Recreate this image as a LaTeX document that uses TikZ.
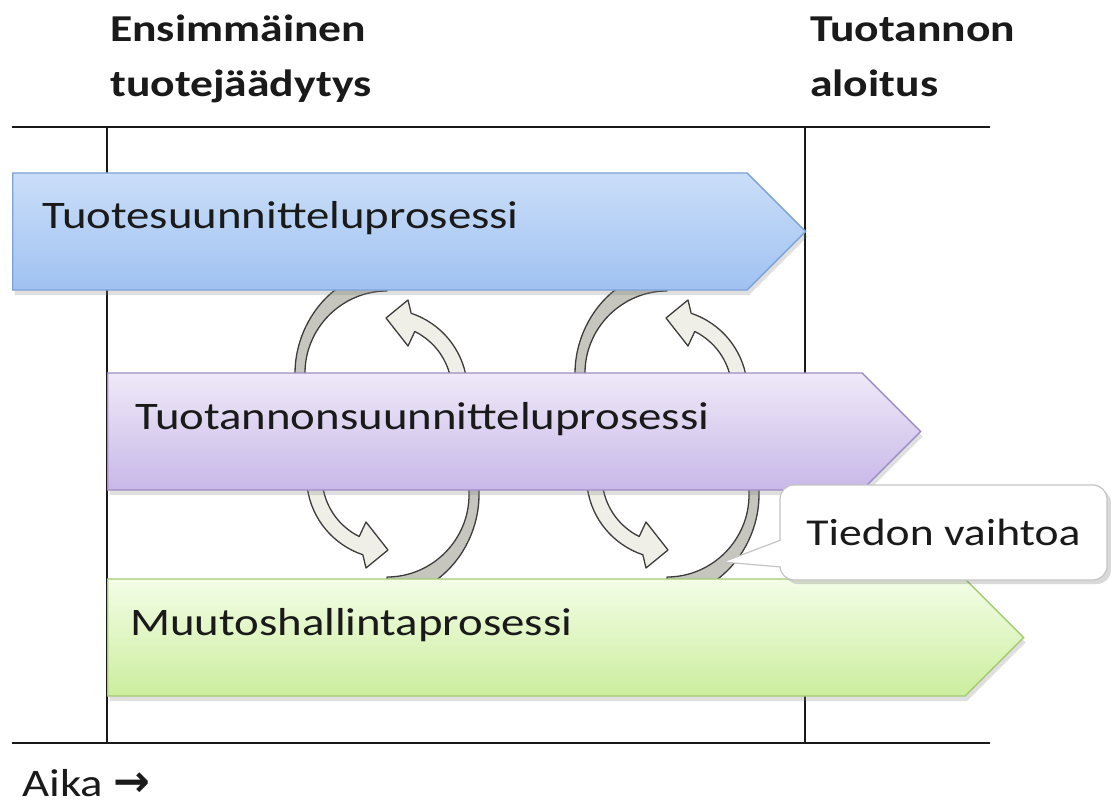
\documentclass[tikz,border=0pt]{standalone}
\usepackage{fontspec}
\setmainfont{Carlito}[FakeStretch=1.2]
\newfontfamily\arrowfont{DejaVu Sans}
\usetikzlibrary{shapes.symbols,shadows,calc}
\definecolor{ink}{HTML}{1A1A1A}
\definecolor{bluetop}{HTML}{CADEF8}
\definecolor{bluebot}{HTML}{A0C2F2}
\definecolor{blueline}{HTML}{7DA2D6}
\definecolor{violettop}{HTML}{EFE9F8}
\definecolor{violetbot}{HTML}{C8B8E8}
\definecolor{violetline}{HTML}{9E8CC6}
\definecolor{greentop}{HTML}{F3FDE6}
\definecolor{greenbot}{HTML}{CCEE9E}
\definecolor{greenline}{HTML}{A4CA74}
\definecolor{loopfill}{HTML}{EFEFE7}
\definecolor{loopdark}{HTML}{C6C6BE}
\definecolor{loopline}{HTML}{3C3C3C}
\definecolor{noteline}{HTML}{C4C4C4}
\tikzset{
 axis/.style={line width=2.5pt,draw=ink},
 bar/.style={signal,signal to=east,signal pointer angle=90,minimum height=117,inner sep=0pt,anchor=west,line width=1.3pt,drop shadow={shadow xshift=2pt,shadow yshift=-5pt,opacity=0.25}},
 prodbar/.style={bar,top color=bluetop,bottom color=bluebot,draw=blueline},
 planbar/.style={bar,top color=violettop,bottom color=violetbot,draw=violetline},
 changebar/.style={bar,top color=greentop,bottom color=greenbot,draw=greenline},
 bartext/.style={anchor=base west,inner sep=0pt,font=\fontsize{39}{55}\selectfont,text=ink},
 head/.style={bartext,align=left,font=\fontsize{38}{55}\selectfont\bfseries},
 loopback/.style={fill=loopdark,draw=loopline,line width=1.3pt,line join=round},
 looparrow/.style={fill=loopfill,draw=loopline,line width=1.3pt,line join=round},
 note/.style={draw=noteline,fill=white,rounded corners=14pt,line width=1.2pt,minimum width=327,minimum height=95,inner sep=0pt,font=\fontsize{38}{55}\selectfont,text=ink,drop shadow={shadow xshift=4pt,shadow yshift=-4pt,opacity=0.3}},
 notetail/.style={fill=white,draw=noteline,line width=1.2pt,line join=round}}
\newcommand\halfloop{%
 \path[loopback] (-90,-50) -- (-90,-58.5) .. controls (-90,-90) and (-75,-122) .. (-50,-141.5) -- (-44,-148) -- (2,-148) -- (2,-140.5) .. controls (-43,-140.5) and (-80,-103.5) .. (-80,-58.5) -- (-80,-50) -- cycle;
 \path[looparrow] ($(0,-40)+(-8:82.5)$) arc[start angle=-8,end angle=-71.5,radius=82.5] -- (23,-131.5) -- (1,-113.5) -- (23,-85.5) -- ($(0,-40)+(-63.6:67)$) arc[start angle=-63.6,end angle=-8,radius=67] -- cycle;}

\begin{document}
\begin{tikzpicture}[x=1pt,y=-1pt]
\useasboundingbox (0,0) rectangle (1111,805);

\node[head] (freeze) at (110,97) {Ensimmäinen\\tuotejäädytys};
\node[head] (start) at (810,97) {Tuotannon\\aloitus};

\draw[axis] (12,127) -- (990,127);
\draw[axis] (12,743) -- (990,743);
\draw[axis] (107,127) -- (107,743);
\draw[axis] (805,127) -- (805,743);

\foreach \cx in {385,665}{
 \begin{scope}[shift={(\cx,431.5)}]
  \halfloop
 \end{scope}
 \begin{scope}[shift={(\cx+4,436.5)},rotate=180]
  \halfloop
 \end{scope}
}

\node[prodbar,minimum width=793] (tuote) at (12,231.5) {};
\node[planbar,minimum width=813] (tuotanto) at (107,431.5) {};
\node[changebar,minimum width=916] (muutos) at (107,637.5) {};

\node[bartext] (tuotetxt) at (42,229) {Tuotesuunnitteluprosessi};
\node[bartext] (tuotantotxt) at (135,429) {Tuotannonsuunnitteluprosessi};
\node[bartext] (muutostxt) at (130,635) {Muutoshallintaprosessi};

\node[note] (tieto) at (943.5,532.5) {Tiedon vaihtoa};
\coordinate (tip) at (723,562);
\path[notetail] ($(tieto.west)+(1.5,7.5)$) -- (tip) -- ($(tieto.west)+(1.5,34.5)$);

\node[bartext] (aika) at (22,796) {Aika {\arrowfont\bfseries\fontsize{44}{50}\selectfont →}};
\end{tikzpicture}
\end{document}
